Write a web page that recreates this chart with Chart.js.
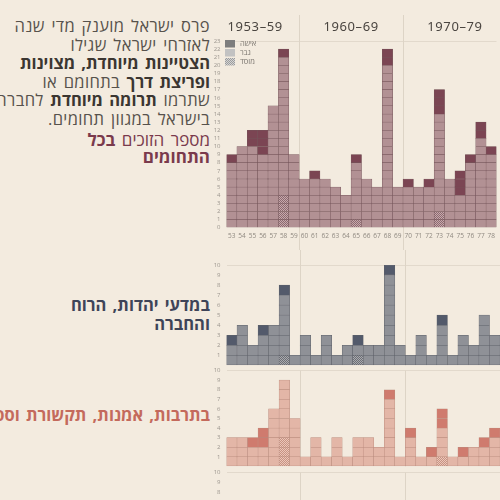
<!DOCTYPE html>
<html lang="he">
<head>
<meta charset="utf-8">
<script src="https://cdn.jsdelivr.net/npm/chart.js@4.4.0/dist/chart.umd.min.js"></script>
<style>
  body { margin: 0; width: 500px; height: 500px; overflow: hidden; background: #f3ebdf; position: relative;
         font-family: "Open Sans", "DejaVu Sans", sans-serif; }
  canvas { position: absolute; left: 200px; }
  .txt { position: absolute; right: 290px; direction: rtl; text-align: right; white-space: nowrap;
         font-size: 17px; word-spacing: 2px; }
  #intro { top: 17px; line-height: 18.5px; color: #57524c; letter-spacing: 0.35px; font-size: 16.5px; }
  #intro b { color: #3b3631; letter-spacing: 0; }
  #allLabel { top: 131px; line-height: 17px; color: #7a3a4c; }
  #jewishLabel { top: 295px; line-height: 19px; color: #3e4458; font-weight: bold; font-size: 16.5px; }
  #cultureLabel { top: 405px; line-height: 19px; color: #c46a5c; font-weight: bold; font-size: 16.5px; }
</style>
</head>
<body>
<div class="txt" id="intro">פרס ישראל מוענק מדי שנה<br>לאזרחי ישראל שגילו<br><b>הצטיינות מיוחדת, מצוינות</b><br><b>ופריצת דרך</b> בתחומם או<br>שתרמו <b>תרומה מיוחדת</b> לחברה<br>בישראל במגוון תחומים.</div>
<div class="txt" id="allLabel">מספר הזוכים <b>בכל</b><br><b>התחומים</b></div>
<div class="txt" id="jewishLabel">במדעי יהדות, הרוח<br>והחברה</div>
<div class="txt" id="cultureLabel">בתרבות, אמנות, תקשורת וספורט</div>

<canvas id="allChart" width="300" height="240" style="top:10px"></canvas>
<canvas id="jewishChart" width="300" height="125" style="top:250px"></canvas>
<canvas id="cultureChart" width="300" height="115" style="top:361px"></canvas>
<canvas id="nextChart" width="300" height="120" style="top:463px"></canvas>

<script>
// Israel Prize laureates per year, one square per laureate
const yearLabels = ['53','54','55','56','57','58','59','60','61','62','63','64','65',
                    '66','67','68','69','70','71','72','73','74','75','76','77','78'];
const decadeTitles = ['1953–59', '1960–69', '1970–79'];
const legendLabels = ['אישה', 'גבר', 'מוסד'];

// all fields
const allTotal = [9,10,12,12,15,22,9,6,7,6,5,4,9,6,5,22,5,6,5,6,17,6,7,9,13,10];
const allWomen = [1,0,2,3,0,1,0,0,1,0,0,0,1,0,0,2,0,1,0,1,3,0,3,1,2,1];
const allInst  = [0,0,0,0,0,4,0,0,0,0,0,0,1,0,0,0,0,0,0,0,2,0,0,0,0,0];

// Jewish studies, humanities and society
const jewishTotal = [3,4,2,4,4,8,1,3,1,3,1,2,3,2,2,10,2,1,3,1,5,1,3,2,5,3];
const jewishWomen = [1,0,0,1,0,1,0,0,0,0,0,0,1,0,0,1,0,0,0,0,1,0,0,0,0,0];
const jewishInst  = [0,0,0,0,0,1,0,0,0,0,0,0,1,0,0,0,0,0,0,0,0,0,0,0,0,0];

// culture, arts, communication and sports
const cultureTotal = [3,3,3,4,6,9,5,1,3,1,3,1,3,3,2,8,1,4,1,2,6,1,2,2,3,4];
const cultureWomen = [0,0,1,2,0,0,0,0,0,0,0,0,0,0,0,1,0,1,0,1,2,0,1,0,1,1];
const cultureInst  = [0,0,0,0,0,3,0,0,0,0,0,0,0,0,0,0,0,0,0,0,1,0,0,0,0,0];

const family = '"Open Sans", "DejaVu Sans", sans-serif';
const decadeStarts = [0, yearLabels.indexOf('60'), yearLabels.indexOf('70')];

function hatch(base, dot) {
  const c = document.createElement('canvas');
  c.width = 2; c.height = 2;
  const g = c.getContext('2d');
  g.fillStyle = base; g.fillRect(0, 0, 2, 2);
  g.fillStyle = dot; g.fillRect(0, 0, 1, 1); g.fillRect(1, 1, 1, 1);
  return g.createPattern(c, 'repeat');
}

const decorPlugin = {
  id: 'decor',
  beforeDatasetsDraw(chart, args, o) {
    const { ctx, chartArea, scales: { x } } = chart;
    const step = x.getPixelForValue(1) - x.getPixelForValue(0);
    const y0 = o.lineTop === 'area' ? chartArea.top : o.lineTop;
    const y1 = o.lineBottom === 'area' ? chartArea.bottom : chart.height;
    ctx.save();
    ctx.strokeStyle = '#ddd4c6';
    ctx.lineWidth = 1;
    decadeStarts.slice(1).forEach(i => {
      const px = Math.round(x.getPixelForValue(i) - step / 2) + 0.5;
      ctx.beginPath(); ctx.moveTo(px, y0); ctx.lineTo(px, y1); ctx.stroke();
    });
    ctx.restore();
  },
  afterDraw(chart, args, o) {
    if (!o.header) return;
    const { ctx, chartArea, scales: { x } } = chart;
    ctx.save();
    ctx.fillStyle = '#4a4540';
    ctx.font = '13px "Noto Sans", sans-serif';
    ctx.letterSpacing = '0.6px';
    ctx.textBaseline = 'middle';
    ctx.textAlign = 'left';
    ctx.fillText(decadeTitles[0], chartArea.left + 1, 17);
    ctx.textAlign = 'center';
    const mid1 = (x.getPixelForValue(decadeStarts[1]) + x.getPixelForValue(decadeStarts[1] + 9)) / 2;
    const mid2 = (x.getPixelForValue(decadeStarts[2]) + x.getPixelForValue(decadeStarts[2] + 9)) / 2;
    ctx.fillText(decadeTitles[1], mid1, 17);
    ctx.fillText(decadeTitles[2], mid2, 17);

    // legend
    const fills = ['#7d7d7d', '#c2c2c2', hatch('#d4d4d4', '#9c9c9c')];
    ctx.letterSpacing = '0px';
    ctx.font = '7.5px ' + family;
    ctx.textAlign = 'left';
    legendLabels.forEach((lab, i) => {
      const y = 30 + i * 9;
      ctx.fillStyle = fills[i];
      ctx.fillRect(chartArea.left - 1.5, y, 10, 7.5);
      ctx.fillStyle = '#7a756f';
      ctx.fillText(lab, chartArea.left + 13.5, y + 4);
    });
    ctx.restore();
  }
};

function panelChart(id, cfg) {
  const levels = Math.max(0, ...cfg.total);
  const datasets = [];
  for (let k = 0; k < levels; k++) {
    datasets.push({
      data: cfg.total.map(t => (k < t ? 1 : null)),
      backgroundColor: cfg.total.map((t, i) =>
        k < cfg.inst[i] ? cfg.instFill : (k < t - cfg.women[i] ? cfg.menColor : cfg.womenColor)),
      borderColor: cfg.lineColor,
      borderWidth: 0.5,
      borderSkipped: false,
      categoryPercentage: 1,
      barPercentage: 1,
      stack: 'units'
    });
  }
  return new Chart(document.getElementById(id), {
    type: 'bar',
    data: { labels: yearLabels, datasets },
    options: {
      responsive: false,
      animation: false,
      layout: { padding: cfg.padding },
      plugins: { legend: { display: false }, tooltip: { enabled: false }, decor: cfg.decor },
      scales: {
        x: {
          stacked: true,
          display: cfg.showX,
          grid: { display: false, drawTicks: false },
          border: { display: false },
          ticks: { color: '#8f8980', font: { size: 6.5, family }, padding: 5, maxRotation: 0, autoSkip: false },
          afterFit: s => { if (cfg.showX) s.height = cfg.xHeight; }
        },
        y: {
          stacked: true,
          min: 0,
          max: cfg.max,
          grid: { color: c => (c.tick.value === cfg.max ? '#e2d9cc' : 'rgba(0,0,0,0)'), drawTicks: false },
          border: { display: false },
          ticks: {
            stepSize: 1, autoSkip: false, color: '#9d978f', font: { size: 6, family }, padding: 6,
            callback: v => (v === 0 && !cfg.showZero ? '' : v)
          },
          afterFit: s => { s.width = 26.5; }
        }
      }
    },
    plugins: [decorPlugin]
  });
}

panelChart('allChart', {
  total: allTotal, women: allWomen, inst: allInst, max: 23, showX: true, showZero: true, xHeight: 22.3,
  menColor: '#b29194', womenColor: '#7b4553', lineColor: '#75555a', instFill: hatch('#c7a9ac', '#8c6a70'),
  padding: { top: 31, left: 0, right: 0, bottom: 0 },
  decor: { lineTop: 5, lineBottom: 'end', header: true }
});

panelChart('jewishChart', {
  total: jewishTotal, women: jewishWomen, inst: jewishInst, max: 10, showX: false, showZero: false,
  menColor: '#8f9197', womenColor: '#535a6b', lineColor: '#5d6068', instFill: hatch('#a9aaae', '#6c6e75'),
  padding: { top: 15, left: 0, right: 0, bottom: 7.7 },
  decor: { lineTop: 0, lineBottom: 'area' }
});

panelChart('cultureChart', {
  total: cultureTotal, women: cultureWomen, inst: cultureInst, max: 10, showX: false, showZero: false,
  menColor: '#e3b6a7', womenColor: '#cf7b6e', lineColor: '#b98b7d', instFill: hatch('#ebc6ba', '#c79382'),
  padding: { top: 6.3, left: 0, right: 0, bottom: 7.3 },
  decor: { lineTop: 'area', lineBottom: 'area' }
});

// next panel (cut off at the bottom of the picture): only its axis is visible
panelChart('nextChart', {
  total: [], women: [], inst: [], max: 10, showX: false, showZero: false,
  menColor: '#c2c2c2', womenColor: '#7d7d7d', lineColor: '#999', instFill: '#ccc',
  padding: { top: 6, left: 0, right: 0, bottom: 12 },
  decor: { lineTop: 'area', lineBottom: 'end' }
});
</script>
</body>
</html>
